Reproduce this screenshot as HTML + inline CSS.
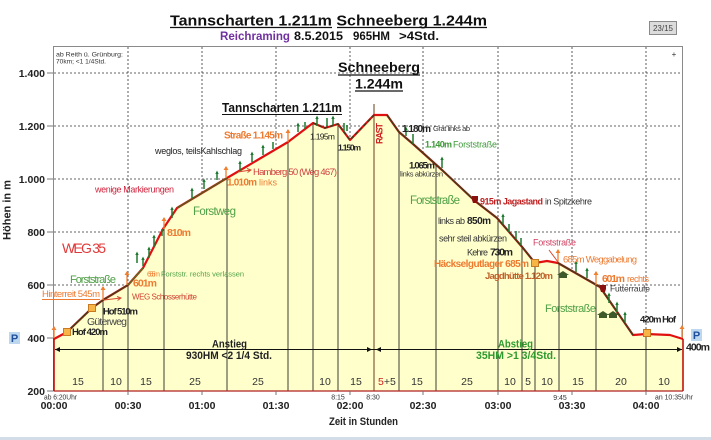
<!DOCTYPE html>
<html><head><meta charset="utf-8"><style>
html,body{margin:0;padding:0;background:#fff;}
svg{display:block;font-family:"Liberation Sans",Arial,sans-serif;}
</style></head><body>
<svg width="711" height="440" viewBox="0 0 711 440" xmlns="http://www.w3.org/2000/svg">
<rect width="711" height="440" fill="#fff"/>
<!-- title -->
<text x="170" y="25.5" font-size="14.5" font-weight="bold" textLength="317" lengthAdjust="spacingAndGlyphs" fill="#111">Tannscharten 1.211m Schneeberg 1.244m</text>
<line x1="170" y1="27.5" x2="332" y2="27.5" stroke="#111" stroke-width="1.2"/>
<line x1="337" y1="27.5" x2="487" y2="27.5" stroke="#111" stroke-width="1.2"/>
<text x="220" y="40" font-size="11.5" font-weight="bold" fill="#7030A0" textLength="70" lengthAdjust="spacingAndGlyphs">Reichraming</text>
<text x="294" y="40" font-size="11.5" font-weight="bold" fill="#111" textLength="49" lengthAdjust="spacingAndGlyphs">8.5.2015</text>
<text x="353" y="40" font-size="11.5" font-weight="bold" fill="#111" textLength="37" lengthAdjust="spacingAndGlyphs">965HM</text>
<text x="399" y="40" font-size="11.5" font-weight="bold" fill="#111" textLength="40" lengthAdjust="spacingAndGlyphs">&gt;4Std.</text>
<!-- 23/15 button -->
<rect x="649.5" y="21.5" width="27" height="13" fill="#dcdcdc" stroke="#8a8a8a"/>
<text x="663" y="31" font-size="8" fill="#444" text-anchor="middle">23/15</text>

<!-- grid -->
<g stroke="#333" stroke-width="0.8" stroke-dasharray="2,2">
<line x1="54" y1="73" x2="683" y2="73"/>
<line x1="54" y1="126" x2="683" y2="126"/>
<line x1="54" y1="179" x2="683" y2="179"/>
<line x1="54" y1="232" x2="683" y2="232"/>
<line x1="54" y1="285" x2="683" y2="285"/>
<line x1="128" y1="47" x2="128" y2="391"/>
<line x1="202" y1="47" x2="202" y2="391"/>
<line x1="276" y1="47" x2="276" y2="391"/>
<line x1="350" y1="47" x2="350" y2="391"/>
<line x1="423" y1="47" x2="423" y2="391"/>
<line x1="498" y1="47" x2="498" y2="391"/>
<line x1="572" y1="47" x2="572" y2="391"/>
<line x1="646" y1="47" x2="646" y2="391"/>
</g>
<rect x="53.5" y="46.5" width="629" height="344.5" fill="none" stroke="#8a8a8a" stroke-width="1"/>

<!-- fill -->
<polygon fill="#FFFFCC" points="54,339 67,332 92,308 103,300 128,285 143,268 163,229 177,208 227,178 288,142 313,123 325,128 338,124 350,140 374,115 387,115 399,132 413,144 442,170 475,201 497,218 523,248 535,263 547,261 558,263 600,287 633,335 646,334 670,335 683,339 683,391 54,391"/>

<!-- vertical segment lines -->
<g stroke="#3d3d35" stroke-width="1">
<line x1="103" y1="300" x2="103" y2="391"/>
<line x1="128" y1="285" x2="128" y2="391"/>
<line x1="164" y1="227" x2="164" y2="391"/>
<line x1="227" y1="178" x2="227" y2="391"/>
<line x1="288" y1="142" x2="288" y2="391"/>
<line x1="313" y1="123" x2="313" y2="391"/>
<line x1="338" y1="124" x2="338" y2="391"/>
<line x1="399" y1="132" x2="399" y2="391"/>
<line x1="436" y1="165" x2="436" y2="391"/>
<line x1="498" y1="219" x2="498" y2="391"/>
<line x1="522" y1="247" x2="522" y2="391"/>
<line x1="535" y1="263" x2="535" y2="391"/>
<line x1="559" y1="263" x2="559" y2="391"/>
<line x1="596" y1="285" x2="596" y2="391"/>
<line x1="646" y1="334" x2="646" y2="391"/>
</g>
<line x1="374" y1="104" x2="374" y2="391" stroke="#8a6a4a" stroke-width="1.3"/>
<!-- red frame of fill -->
<line x1="54" y1="338" x2="54" y2="391" stroke="#c00000" stroke-width="1.5"/>
<line x1="683" y1="339" x2="683" y2="391" stroke="#c00000" stroke-width="1.5"/>
<line x1="54" y1="391" x2="683" y2="391" stroke="#b02020" stroke-width="1.3"/>

<!-- ticks -->
<g stroke="#777" stroke-width="1">
<line x1="47" y1="73" x2="53" y2="73"/><line x1="47" y1="126" x2="53" y2="126"/><line x1="47" y1="179" x2="53" y2="179"/><line x1="47" y1="232" x2="53" y2="232"/><line x1="47" y1="285" x2="53" y2="285"/><line x1="47" y1="338" x2="53" y2="338"/><line x1="47" y1="391" x2="53" y2="391"/>
<line x1="128" y1="391" x2="128" y2="395"/><line x1="202" y1="391" x2="202" y2="395"/><line x1="276" y1="391" x2="276" y2="395"/><line x1="350" y1="391" x2="350" y2="395"/><line x1="423" y1="391" x2="423" y2="395"/><line x1="498" y1="391" x2="498" y2="395"/><line x1="572" y1="391" x2="572" y2="395"/><line x1="646" y1="391" x2="646" y2="395"/>
</g>

<!-- arrow line -->
<line x1="55" y1="349.5" x2="682" y2="349.5" stroke="#111" stroke-width="1"/>
<path d="M55,349.5 l5,-2.5 v5 z M682,349.5 l-5,-2.5 v5 z M372,349.5 l-5,-2.5 v5 z M376,349.5 l5,-2.5 v5 z" fill="#111"/>

<!-- profile -->
<polyline fill="none" stroke="#e01010" stroke-width="2.2" stroke-linejoin="round" points="54,339 67,332 92,308 103,300 128,285 143,268 163,229 177,208 227,178 288,142 313,123 325,128 338,124 350,140 374,115 387,115 399,132 413,144 442,170 475,201 497,218 523,248 535,263 547,261 558,263 600,287 633,335 646,334 670,335 683,339"/>
<g fill="none" stroke="#4a3a18" stroke-width="1.6" stroke-linejoin="round">
<polyline points="67,332 92,308 103,300 128,285"/>
<polyline stroke="#5f6a20" points="128,285 143,268"/>
<polyline stroke="#5a5a1a" points="177,208 227,178"/>
<polyline stroke-dasharray="4,2" points="313,123 325,128 338,124 350,140 374,115"/>
<polyline points="387,115 399,132 413,144 442,170 475,201 497,218 523,248 535,263"/>
<polyline points="558,263 600,287 633,335"/>
</g>

<!-- green markers -->
<path fill="none" stroke="#1f7a2f" stroke-width="1.5" d="M137,263V253M143,266V258M149,258V248M154,247V236M162,236V229M172,218V208M192,198V189M204,189V180M217,180V172M240,171V162M252,162V153M263,155V146M273,149V142M298,132V124M305,129V122M317,126V117M327,126V118M333,125V117M344,131V123M347,131V125M406,136V128M413,144V134M442,168V158M503,224V215M509,232V224M516,239V231M521,245V238M576,272V262M587,278V269M609,303V294M617,312V303M625,322V313"/>
<path fill="#1f7a2f" d="M135.3,255l1.7,-3.5l1.7,3.5zM141.3,260l1.7,-3.5l1.7,3.5zM147.3,250l1.7,-3.5l1.7,3.5zM152.3,238l1.7,-3.5l1.7,3.5zM170.3,210l1.7,-3.5l1.7,3.5zM190.3,191l1.7,-3.5l1.7,3.5zM202.3,182l1.7,-3.5l1.7,3.5zM215.3,174l1.7,-3.5l1.7,3.5zM238.3,164l1.7,-3.5l1.7,3.5zM250.3,155l1.7,-3.5l1.7,3.5zM261.3,148l1.7,-3.5l1.7,3.5zM296.3,126l1.7,-3.5l1.7,3.5zM315.3,119l1.7,-3.5l1.7,3.5zM331.3,119l1.7,-3.5l1.7,3.5zM404.3,130l1.7,-3.5l1.7,3.5zM440.3,160l1.7,-3.5l1.7,3.5zM501.3,217l1.7,-3.5l1.7,3.5zM574.3,264l1.7,-3.5l1.7,3.5zM585.3,271l1.7,-3.5l1.7,3.5zM607.3,296l1.7,-3.5l1.7,3.5zM615.3,305l1.7,-3.5l1.7,3.5zM623.3,315l1.7,-3.5l1.7,3.5z"/>

<!-- orange signposts -->
<path fill="none" stroke="#f08030" stroke-width="1.3" d="M54,338V327M103,300V287M127,285V272M164,229V218M226,178V167M288,142V130M558,262V250M596,285V272M682,338V326"/>
<path fill="#f08030" d="M51.5,330l2.5,-4l2.5,4zM100.5,290l2.5,-4l2.5,4zM124.5,275l2.5,-4l2.5,4zM161.5,221l2.5,-4l2.5,4zM223.5,170l2.5,-4l2.5,4zM285.5,133l2.5,-4l2.5,4zM555.5,253l2.5,-4l2.5,4zM593.5,275l2.5,-4l2.5,4zM679.5,329l2.5,-4l2.5,4z"/>
<path fill="none" stroke="#d84a30" stroke-width="1" d="M104,300L121,298M117,296.5l4,1.5l-3.5,2.5M238,172L251,170M247,168.5l4,1.5l-3.5,2.5M549,250L558,262"/>

<!-- squares / huts / markers -->
<g fill="#f7b548" stroke="#c77a20" stroke-width="1">
<rect x="63.5" y="328.5" width="7" height="7"/>
<rect x="88.5" y="304.5" width="7" height="7"/>
<rect x="531.5" y="259.5" width="7" height="7"/>
<rect x="643.5" y="329.5" width="7" height="7"/>
</g>
<path fill="#3e5a2a" d="M559,278h8v-3h2l-6,-4l-6,4h2zM599,318h8v-3h2l-6,-4l-6,4h2zM609,318h8v-3h2l-6,-4l-6,4h2z"/>
<path fill="#8b1010" d="M472,196h6v4l-1,3h-4l-1,-3zM600,285h6v4l-1,3h-4l-1,-3z"/>

<!-- axis labels -->
<g font-size="10.5" font-weight="bold" fill="#222" text-anchor="end">
<text x="45" y="77">1.400</text><text x="45" y="130">1.200</text><text x="45" y="183">1.000</text><text x="45" y="236">800</text><text x="45" y="289">600</text><text x="45" y="342">400</text><text x="45" y="395">200</text>
</g>
<text transform="translate(10.5,210) rotate(-90)" font-size="11" font-weight="bold" fill="#222" text-anchor="middle">Höhen in m</text>
<g font-size="10.5" font-weight="bold" fill="#222" text-anchor="middle">
<text x="54" y="409">00:00</text><text x="128" y="409">00:30</text><text x="202" y="409">01:00</text><text x="276" y="409">01:30</text><text x="350" y="409">02:00</text><text x="423" y="409">02:30</text><text x="498" y="409">03:00</text><text x="572" y="409">03:30</text><text x="646" y="409">04:00</text>
</g>
<text x="363.5" y="425" font-size="11" font-weight="bold" fill="#222" text-anchor="middle" textLength="69" lengthAdjust="spacingAndGlyphs">Zeit in Stunden</text>
<g font-size="7" fill="#333">
<text x="44" y="399.5" textLength="33" lengthAdjust="spacingAndGlyphs">ab 6:20Uhr</text>
<text x="338" y="399.5" text-anchor="middle">8:15</text>
<text x="373" y="399.5" text-anchor="middle">8:30</text>
<text x="560" y="400" text-anchor="middle">9:45</text>
<text x="655" y="399.5" textLength="38" lengthAdjust="spacingAndGlyphs">an 10:35Uhr</text>
</g>
<!-- segment minutes -->
<g font-size="10.5" fill="#333" text-anchor="middle">
<text x="78" y="385">15</text><text x="116" y="385">10</text><text x="146" y="385">15</text><text x="195" y="385">25</text><text x="258" y="385">25</text><text x="325" y="385">10</text><text x="356" y="385">15</text><text x="417" y="385">15</text><text x="467" y="385">25</text><text x="510" y="385">10</text><text x="528" y="385">5</text><text x="547" y="385">10</text><text x="578" y="385">15</text><text x="621" y="385">20</text><text x="664" y="385">10</text>
</g>
<text x="378" y="385" font-size="10.5" fill="#d02020">5<tspan fill="#333">+5</tspan></text>

<!-- anstieg / abstieg -->
<text x="212" y="347.5" font-size="11" font-weight="bold" fill="#222" textLength="35" lengthAdjust="spacingAndGlyphs">Anstieg</text>
<text x="186" y="359" font-size="11" font-weight="bold" fill="#222" textLength="86" lengthAdjust="spacingAndGlyphs">930HM  &lt;2 1/4  Std.</text>
<text x="498" y="347.5" font-size="11" font-weight="bold" fill="#2e9a2e" textLength="35" lengthAdjust="spacingAndGlyphs">Abstieg</text>
<text x="476" y="359" font-size="11" font-weight="bold" fill="#2e9a2e" textLength="80" lengthAdjust="spacingAndGlyphs">35HM   &gt;1 3/4Std.</text>

<!-- top-left note -->
<text x="56" y="56.5" font-size="6.5" fill="#333" textLength="67" lengthAdjust="spacingAndGlyphs">ab Reith ü. Grünburg:</text>
<text x="56" y="63.5" font-size="6.5" fill="#333" textLength="50" lengthAdjust="spacingAndGlyphs">70km; &lt;1 1/4Std.</text>
<text x="674" y="57" font-size="8" fill="#333" text-anchor="middle">+</text>

<!-- peak labels -->
<text x="338" y="72" font-size="14" font-weight="bold" fill="#111" textLength="82" lengthAdjust="spacingAndGlyphs">Schneeberg</text>
<line x1="338" y1="75" x2="420" y2="75" stroke="#111" stroke-width="1.2"/>
<text x="355" y="88.5" font-size="14" font-weight="bold" fill="#111" textLength="48" lengthAdjust="spacingAndGlyphs">1.244m</text>
<line x1="355" y1="91" x2="403" y2="91" stroke="#111" stroke-width="1.2"/>
<text x="222" y="112" font-size="12.5" font-weight="bold" fill="#111" textLength="120" lengthAdjust="spacingAndGlyphs">Tannscharten 1.211m</text>
<line x1="222" y1="114.5" x2="342" y2="114.5" stroke="#111" stroke-width="1.1"/>

<!-- annotations -->
<g font-size="9" lengthAdjust="spacingAndGlyphs">
<text x="224" y="138.5" font-size="10" font-weight="bold" fill="#ee7a30" textLength="59">Straße 1.145m</text>
<text x="155" y="154" fill="#222" textLength="87">weglos, teilsKahlschlag</text>
<text x="95" y="192.5" fill="#d0203a" textLength="79">wenige Markierungen</text>
<text x="253" y="175" font-size="9.5" fill="#d04040" textLength="84">Hamberg 50 (Weg 467)</text>
<text x="227" y="185.5" font-size="10" font-weight="bold" fill="#ee7a30" textLength="30">1.010m</text>
<text x="259" y="185.5" fill="#ee7a30" textLength="18">links</text>
<text x="193" y="215" font-size="11.5" fill="#4fa046" textLength="43">Forstweg</text>
<text x="167" y="236" font-size="10.5" font-weight="bold" fill="#ee7a30" textLength="24">810m</text>
<text x="62" y="253" font-size="14" fill="#e03a3a" textLength="44">WEG 35</text>
<text x="147" y="276.5" font-size="7.5" fill="#ee7a30" textLength="13">655m</text>
<text x="161" y="276.5" font-size="7.5" fill="#4fa046" textLength="83">Forststr. rechts verlassen</text>
<text x="70" y="283" font-size="11" fill="#4fa046" textLength="46">Forststraße</text>
<text x="133" y="286.5" font-size="10.5" font-weight="bold" fill="#ee7a30" textLength="24">601m</text>
<text x="42" y="297" font-size="9.5" fill="#ee7a30" textLength="58">Hinterreit 545m</text>
<line x1="42" y1="299.5" x2="100" y2="299.5" stroke="#ee7a30" stroke-width="0.9"/>
<text x="132" y="299.5" font-size="8" fill="#d04030" textLength="65">WEG  Schosserhütte</text>
<text x="103" y="314.5" font-size="9.5" font-weight="bold" fill="#222" textLength="35">Hof 510m</text>
<text x="87" y="325" font-size="10.5" fill="#444" textLength="40">Güterweg</text>
<text x="72" y="335" font-size="9.5" font-weight="bold" fill="#222" textLength="36">Hof 420m</text>
<text x="310" y="139.5" font-size="8.5" fill="#222" textLength="25">1.195m</text>
<text x="338" y="150.5" font-size="8.5" font-weight="bold" fill="#222" textLength="23">1.150m</text>
<text transform="translate(382.5,144) rotate(-90)" font-size="9" font-weight="bold" fill="#d02020" textLength="21">RAST</text>
<text x="402" y="132" font-size="10" font-weight="bold" fill="#222" textLength="29">1.180m</text>
<text x="433" y="131" font-size="7.5" fill="#333" textLength="37">Grat links ab</text>
<text x="425" y="147.5" font-size="9" font-weight="bold" fill="#3f9a3a" textLength="27">1.140m</text>
<text x="453" y="147.5" font-size="9" fill="#3f9a3a" textLength="44">Forststraße</text>
<text x="409" y="168.5" font-size="9.5" font-weight="bold" fill="#222" textLength="26">1.065m</text>
<text x="400" y="176.5" font-size="7.5" fill="#333" textLength="43">links abkürzen</text>
<text x="410" y="204" font-size="11.5" fill="#4fa046" textLength="50">Forststraße</text>
<text x="480" y="204.5" font-weight="bold" fill="#c02020" textLength="63">915m Jagastand</text>
<text x="545" y="204.5" fill="#333" textLength="47">in Spitzkehre</text>
<text x="438" y="224" fill="#333" textLength="27">links ab</text>
<text x="467" y="224" font-size="10" font-weight="bold" fill="#222" textLength="24">850m</text>
<text x="439" y="241.5" fill="#333" textLength="68">sehr steil abkürzen</text>
<text x="467" y="255.5" fill="#333" textLength="21">Kehre</text>
<text x="490" y="255.5" font-size="10.5" font-weight="bold" fill="#222" textLength="23">730m</text>
<text x="434" y="267" font-size="10" font-weight="bold" fill="#ee7a30" textLength="95">Häckselgutlager 685m</text>
<text x="485" y="279" font-size="9.5" font-weight="bold" fill="#c0602a" textLength="68">Jagdhütte 1.120m</text>
<text x="533" y="245.5" fill="#d04060" textLength="43">Forststraße</text>
<text x="563" y="262.5" font-size="9.5" fill="#ee7a30" textLength="74">685m Weggabelung</text>
<text x="602" y="282" font-size="10.5" font-weight="bold" fill="#ee7a30" textLength="23">601m</text>
<text x="627" y="282" fill="#ee7a30" textLength="22">rechts</text>
<text x="610" y="291.5" font-size="8.5" fill="#333" textLength="40">Futterraufe</text>
<text x="545" y="312" font-size="11" fill="#4fa046" textLength="51">Forststraße</text>
<text x="640" y="322.5" font-size="9.5" font-weight="bold" fill="#222" textLength="36">420m Hof</text>
<text x="686" y="350.5" font-size="10.5" font-weight="bold" fill="#222" textLength="24">400m</text>
</g>

<!-- P boxes -->
<rect x="9" y="332" width="11" height="12" fill="#bdd7ee"/>
<text x="14.5" y="342" font-size="11" font-weight="bold" fill="#1f4e9a" text-anchor="middle">P</text>
<rect x="691" y="329" width="11" height="12" fill="#bdd7ee"/>
<text x="696.5" y="339" font-size="11" font-weight="bold" fill="#1f4e9a" text-anchor="middle">P</text>

<rect x="0" y="437" width="711" height="3" fill="#d3dde8"/>
</svg>
</body></html>
